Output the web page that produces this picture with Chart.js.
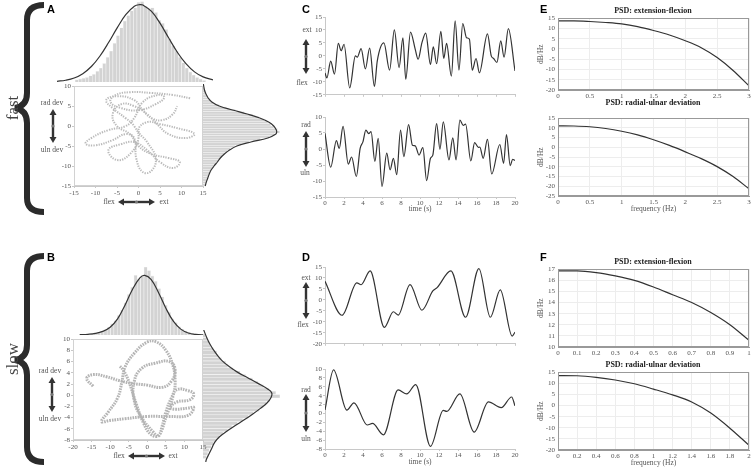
<!DOCTYPE html>
<html>
<head>
<meta charset="utf-8">
<script src="https://cdn.jsdelivr.net/npm/chart.js@4/dist/chart.umd.min.js"></script>
<style>
html, body { margin: 0; padding: 0; background: #fff; }
#fig { position: relative; width: 753px; height: 469px; overflow: hidden; font-family: 'Liberation Serif', 'Times New Roman', serif; color: #555; }
#fig canvas { position: absolute; }
#ann { position: absolute; left: 0; top: 0; z-index: 2; }
.t { position: absolute; font-size: 7.5px; line-height: 8px; white-space: nowrap; transform: translate(-50%, -50%); z-index: 3; }
.ttl { position: absolute; font-size: 8px; line-height: 8px; font-weight: bold; color: #222; white-space: nowrap; transform: translate(-50%, -50%); z-index: 3; }
.lbl { position: absolute; font: bold 11px/11px 'Liberation Sans', Arial, sans-serif; color: #000; z-index: 3; }
.side { position: absolute; font-size: 17px; line-height: 17px; color: #444; white-space: nowrap; transform: translate(-50%, -50%) rotate(-90deg); z-index: 3; }
</style>
</head>
<body>
<div id="fig">
  <svg id="ann" width="753" height="469"></svg>
</div>
<script>
// ---- data ----
// C: fast trial, time series (s, deg)
var cTimeFE = [0,0.2,0.6,1.0,1.4,1.7,2.0,2.6,3.2,3.4,3.8,4.25,4.7,5.2,5.5,6.2,6.8,7.3,7.8,8.2,8.5,9.0,9.5,9.8,10.2,10.6,11.1,11.4,11.75,12.2,12.5,12.8,13.3,13.7,14.1,14.5,14.9,15.2,15.5,15.9,16.25,17.1,17.5,17.75,18.1,18.5,18.85,19.3,20];
var cFlexExt = [-6.6,-8.5,-2,-7,4.8,2,4.5,-12.3,0,-0.5,2.8,-5,3,-11.8,-2,5,-5.5,10,-4.5,7,-9,9.2,2.5,-1.3,5,8.8,-3.3,3.5,-3,9.5,-1,4.8,-7.8,13.5,-5.5,12.5,7,6.5,-5.5,-1,-6.5,8.5,0,-1,-2.5,5.8,-0.5,10.5,-5.8];
var cTimeRU = [0,0.6,1.2,1.5,1.9,2.45,2.8,3.3,3.7,4.0,4.3,4.6,4.85,5.25,5.6,6.0,6.5,6.85,7.2,7.55,7.95,8.3,8.8,9.2,9.5,9.9,10.3,10.7,11.1,11.35,11.75,12.1,12.45,13.05,13.45,13.8,14.2,14.55,14.8,15.35,15.75,16.15,16.3,16.65,17.1,17.55,18.4,18.8,19.1,19.5,19.75,20];
var cRadUln = [4.9,-5.7,2.6,0.2,7.1,-4.7,-2.5,-8.6,0.2,2.3,5.9,4.8,5.4,-3.9,3.3,-11.7,-1.3,-6.5,-2.9,-8,5.9,-2.4,7.6,1.2,1,-1.9,0.4,-9.9,-2.9,-1.9,7.9,-0.1,8.5,-3.4,3.5,-3.4,9,7.4,7.8,-3.7,2,0.5,0.6,-2.9,3,-7.8,1.4,-4.5,4.5,-5.2,-3.2,-3.6];

// D: slow trial
var dTimeFE = [0,1.8,3.35,3.8,4.75,6.25,7.2,7.7,8.95,10.2,11.35,11.8,13.25,14.8,16.2,17.4,18.45,19.7,20];
var dFlexExt = [8.5,-7,7.8,6.9,13.2,-12.5,-5.4,-6.9,7,-4.7,4.1,5.6,13.2,-7.9,14.3,-7.9,4.6,-16.5,-14.7];
var dTimeRU = [0,0.9,2.3,3.05,4.45,5.0,6.15,7.7,8.6,9.55,11.1,12.45,12.8,14.2,15.7,17.2,18.55,19.65,20];
var dRadUln = [0.8,9.8,0.75,2.4,-2.6,-2.25,-4.8,5.3,4.4,6.5,-7.4,0.7,0.45,4.4,-4.2,2.6,1.3,3.7,1.7];

// A / B: wrist trajectories (flex-ext vs rad-uln)
var aPathFE = [12,8,3,-2,-5.5,-6.5,-4,0,4,6,4.5,1,-1,-3,-7,-11,-12.3,-10,-6,-3,-1,-0.5,1,3,4,2,0,2,5,9,13,11,7,4.6,2,-1,-4,-6,-5,-2,0,3,7,9.6,8,5,2,-1,-4,-7,-5,-2,0,-1,-3,-6,-7.5,-5,-1,1,3,5.5,8,9];
var aPathRU = [7,7.8,8.3,8.5,7.7,6,4.5,4,5.5,7.2,7.8,6,2,0,-1,-3,-4.4,-4.8,-3.5,-2,-3,-8.2,-11.5,-11.2,-8,-4,-1,1,0.5,-0.5,-1.9,-3,-2,0.2,3,5,5.5,3,0,-2,-5,-7,-8,-9,-10.5,-9,-6,-4,-4.5,-6,-8.5,-7,-3,0,2,4.5,6.5,7.5,6.5,4,2,1.5,3,5];
var bPathFE = [-14.6,-16.3,-14.5,-11,-7.5,-4,0,4,6.5,7.5,6,2,-1.5,-3.5,-3.5,-1.5,1.5,3,4,5,6.5,8,11,12.5,11.5,8,6.2,7.5,11,12.5,11,6,0,-6,-10,-12.3,-10.5,-8,-6.8,-6,-3.5,0,2.5,5,6.8,7.5,7,5,3,1,-1,-3,-5,-6.5,-7.6];
var bPathRU = [1.6,3,3.7,3.3,2.6,2.1,1.8,1.4,2.5,4.5,6,5.7,4.8,2.5,-1,-4,-6.5,-7.3,-5.5,-3,-0.5,1,0.8,0.2,-0.8,-1.2,-2.2,-2.5,-2.3,-2.2,-3.6,-3.8,-3.8,-4.2,-4.5,-4.7,-3,-0.5,2.5,5,7.5,9.5,9.5,8,5.5,2.5,0,-4,-7.2,-7,-5,-1.5,2.5,4.5,5.3];

// A histograms (relative heights, fitted curve peak = 100)
var aTopBins = [-14.4,-13.6,-12.8,-12.0,-11.2,-10.4,-9.6,-8.8,-8.0,-7.2,-6.4,-5.6,-4.8,-4.0,-3.2,-2.4,-1.6,-0.8,0.0,0.8,1.6,2.4,3.2,4.0,4.8,5.6,6.4,7.2,8.0,8.8,9.6,10.4,11.2,12.0,12.8,13.6,14.4,15.2];
var aTopCounts = [3,4,5,6,8,10,14,18,24,32,40,50,60,70,79,86,92,96,103,104,98,95,96,90,80,76,68,56,47,40,32,25,18,13,9,6,4,2];
var aTopFitX = [-19,-17,-15,-13,-11,-9,-7,-5,-3,-1,0.3,1,3,5,7,9,11,13,15,17.3];
var aTopFitY = [0.9,2.3,5.2,10.8,20,33.6,51,70,87,98,100,99.4,91.2,75.7,56.8,38.5,23.7,13.1,6.6,2.8];
var aRightBins = [-14.7,-14.1,-13.5,-12.9,-12.3,-11.7,-11.1,-10.5,-9.9,-9.3,-8.7,-8.1,-7.5,-6.9,-6.3,-5.7,-5.1,-4.5,-3.9,-3.3,-2.7,-2.1,-1.5,-0.9,-0.3,0.3,0.9,1.5,2.1,2.7,3.3,3.9,4.5,5.1,5.7,6.3,6.9,7.5,8.1,8.7,9.3,9.9];
var aRightCounts = [3,4,5,6,8,9,11,13,15,18,21,23,26,29,33,37,43,52,63,78,90,97,104,101,96,92,88,83,76,68,56,44,32,22,14,10,7,5,4,3,2,1];
var aRightFitY = [10.5,9,8,7,6,5,4,3,2,1,0,-1,-1.5,-2,-3,-4,-5,-6,-7,-8,-9,-10,-11,-12,-13,-14,-15];
var aRightFitX = [0.5,2,4,7,12,22,40,60,77,89,96,99.5,100,99,88,65,46,36,29,23.5,19.5,15,11,8.5,6.5,4.5,3];

// B histograms
var bTopBins = [-14.85,-13.95,-13.05,-12.15,-11.25,-10.35,-9.45,-8.55,-7.65,-6.75,-5.85,-4.95,-4.05,-3.15,-2.25,-1.35,-0.45,0.45,1.35,2.25,3.15,4.05,4.95,5.85,6.75,7.65,8.55,9.45,10.35,11.25,12.15,13.05,13.95];
var bTopCounts = [2,3,4,6,9,13,19,24,33,42,54,68,80,100,94,98,114,108,99,90,78,64,50,38,27,21,14,10,7,5,3,2,1];
var bTopFitX = [-18.2,-16,-14,-12,-10,-8,-6,-4,-2,-0.7,1,3,5,7,9,11,13,15.6];
var bTopFitY = [0.5,1.2,2.6,6,13,27,50,76.4,95.9,100,93.1,71.3,44.8,23.1,9.8,3.4,1.0,0.2];
var bRightBins = [-11.1,-10.5,-9.9,-9.3,-8.7,-8.1,-7.5,-6.9,-6.3,-5.7,-5.1,-4.5,-3.9,-3.3,-2.7,-2.1,-1.5,-0.9,-0.3,0.3,0.9,1.5,2.1,2.7,3.3,3.9,4.5,5.1,5.7,6.3,6.9,7.5,8.1,8.7,9.3,9.9,10.5];
var bRightCounts = [5,7,9,12,15,19,24,29,36,42,50,58,66,73,82,88,92,97,112,106,96,88,80,72,62,54,44,36,33,27,22,20,15,11,9,6,4];
var bRightFitY = [11.5,10,9,8,7,6,5,4,3,2,1,0.3,-0.5,-1.5,-2.5,-3.5,-4.5,-5.5,-6.5,-7.5,-8.5,-9.5,-10.5,-11.5,-12];
var bRightFitX = [1,6,10,15,21,28,38,50,65,80,94,100,99,93,83,72,60,47,35,24,17,13,9,5,4];

// E / F: power spectral density (dB/Hz)
var eFreq = [0,0.25,0.5,0.75,1,1.25,1.5,1.75,2,2.25,2.5,2.75,3];
var eFlexPsd = [13.7,13.7,13.4,12.9,12.2,10.9,9.0,6.8,4.0,0.6,-4.2,-10.5,-18.0];
var eRadPsd = [11.1,11.0,10.6,9.7,8.3,6.4,3.9,1.0,-2.3,-5.8,-9.9,-15.0,-21.3];
var eFlexDrop = [10.3,13.7];
var eRadDrop = [8.3,11.1];
var fFreqFE = [0,0.1,0.2,0.3,0.4,0.5,0.6,0.7,0.8,0.9,1];
var fFlexPsd = [16.85,16.85,16.7,16.4,16.0,15.4,14.7,14.0,13.1,12.0,10.6];
var fFreqRU = [0,0.2,0.4,0.6,0.8,1,1.2,1.4,1.6,1.8,2];
var fRadPsd = [13.5,13.4,12.7,11.5,9.8,7.4,4.8,1.6,-3.4,-10.2,-17.9];
var fFlexDrop = [13.9,16.85];
var fRadDrop = [10.6,13.5];

// ---- setup ----
var serif = "'Liberation Serif', 'Times New Roman', serif";
Chart.defaults.font.family = serif;
Chart.defaults.font.size = 7;
Chart.defaults.color = '#555';

Chart.register({
    id: 'frame',
    defaults: { color: null },
    afterDraw: function(chart, args, opts) {
        if (!opts.color) return;
        var a = chart.chartArea, g = chart.ctx;
        g.save();
        g.strokeStyle = opts.color;
        g.lineWidth = 1;
        g.strokeRect(Math.round(a.left) + 0.5, Math.round(a.top) + 0.5, Math.round(a.width) - 1, Math.round(a.height) - 1);
        g.restore();
    }
});

var fig = document.getElementById('fig');

let pts = (xs, ys) => xs.map((x, i) => ({ x: x, y: ys[i] }));
let fmt = v => String(Math.round(v * 100) / 100);

// area = plot rectangle [x, y, w, h], m = margins [left, top, right, bottom]
function build(area, m, type, datasets, scales, frameColor, indexAxis) {
    var l = m[0], t = m[1], r = m[2], b = m[3];
    var w = l + area[2] + r, h = t + area[3] + b;
    var c = document.createElement('canvas');
    c.width = w; c.height = h;
    c.style.left = (area[0] - l) + 'px';
    c.style.top = (area[1] - t) + 'px';
    c.style.width = w + 'px';
    c.style.height = h + 'px';
    fig.appendChild(c);
    var pad = { top: t, right: r, left: 0, bottom: 0 };
    if (scales.x.display === false) pad.bottom = b; else scales.x.afterFit = s => { s.height = b; };
    if (scales.y.display === false) pad.left = l; else scales.y.afterFit = s => { s.width = l; };
    return new Chart(c, {
        type: type,
        data: { datasets: datasets },
        options: {
            responsive: false,
            animation: false,
            indexAxis: indexAxis || 'x',
            layout: { padding: pad },
            scales: scales,
            plugins: { legend: { display: false }, tooltip: { enabled: false }, frame: { color: frameColor || null } }
        }
    });
}

function axis(min, max, step, opts) {
    opts = opts || {};
    return {
        type: 'linear', min: min, max: max, offset: false,
        ticks: { stepSize: step, display: opts.labels !== false, padding: opts.pad == null ? 1 : opts.pad, autoSkip: false, maxRotation: 0, color: '#555', font: { size: 7 }, callback: fmt },
        grid: opts.grid
            ? { drawOnChartArea: true, color: '#ededed', tickLength: 0 }
            : { drawOnChartArea: false, color: '#c8c8c8', tickLength: 2 },
        border: { color: opts.grid ? '#999' : '#c8c8c8' },
        title: opts.title ? { display: true, text: opts.title, padding: 0, color: '#555', font: { size: 7.5 } } : { display: false }
    };
}
function hidden(min, max) {
    return { type: 'linear', display: false, min: min, max: max, offset: false };
}

var lineStyle = { borderColor: '#333', borderWidth: 1.2, pointRadius: 0, fill: false };
function curve(data, extra) { return Object.assign({ type: 'line', data: data, order: 0, tension: 0.4 }, lineStyle, extra || {}); }
function bars(data) {
    return { type: 'bar', data: data, order: 1, backgroundColor: '#d3d3d3', borderColor: '#f4f4f4', borderWidth: 0.6,
             barPercentage: 1, categoryPercentage: 1 };
}

// ---- A ----
build([57, 0, 156, 82], [0, 0, 0, 0], 'bar',
    [curve(pts(aTopFitX, aTopFitY)), bars(pts(aTopBins, aTopCounts))],
    { x: hidden(-19, 17.3), y: hidden(0, 106) });
build([203, 82, 77, 108], [0, 0, 0, 0], 'bar',
    [curve(aRightFitY.map((y, i) => ({ x: aRightFitX[i], y: y }))), bars(aRightBins.map((y, i) => ({ x: aRightCounts[i], y: y })))],
    { x: hidden(0, 104.5), y: hidden(-16, 11) }, null, 'y');
build([74, 86, 129, 100], [20, 5, 5, 12], 'scatter',
    [{ data: pts(aPathFE, aPathRU), showLine: true, tension: 0.45, pointRadius: 0, borderColor: 'rgba(140,140,140,0.6)', borderWidth: 2, borderDash: [1.3, 1.2] }],
    { x: axis(-15, 15, 5), y: axis(-15, 10, 5) }, '#d2d2d2');

// ---- B ----
build([73, 264, 133, 71], [0, 0, 0, 0], 'bar',
    [curve(pts(bTopFitX, bTopFitY)), bars(pts(bTopBins, bTopCounts))],
    { x: hidden(-20, 15.8), y: hidden(0, 119) });
build([203, 330, 77, 132], [0, 0, 0, 0], 'bar',
    [curve(bRightFitY.map((y, i) => ({ x: bRightFitX[i], y: y }))), bars(bRightBins.map((y, i) => ({ x: bRightCounts[i], y: y })))],
    { x: hidden(0, 112), y: hidden(-12, 11.5) }, null, 'y');
build([73, 339, 130, 101], [20, 5, 5, 12], 'scatter',
    [{ data: pts(bPathFE, bPathRU), showLine: true, tension: 0.45, pointRadius: 0, borderColor: 'rgba(130,130,130,0.6)', borderWidth: 3, borderDash: [1.6, 1] }],
    { x: axis(-20, 15, 5), y: axis(-8, 10, 2) }, '#d2d2d2');

// ---- C / D time series ----
function series(xs, ys) {
    return Object.assign({ data: pts(xs, ys), cubicInterpolationMode: 'monotone' }, lineStyle, { borderWidth: 1.2 });
}
build([325, 17, 190, 80], [20, 6, 6, 3], 'line', [series(cTimeFE, cFlexExt)],
    { x: axis(0, 20, 2, { labels: false }), y: axis(-15, 15, 5) });
build([325, 117, 190, 80], [20, 6, 6, 17], 'line', [series(cTimeRU, cRadUln)],
    { x: axis(0, 20, 2, { title: 'time (s)', pad: 0 }), y: axis(-15, 10, 5) });
build([325, 267, 190, 79], [20, 6, 6, 3], 'line', [series(dTimeFE, dFlexExt)],
    { x: axis(0, 20, 2, { labels: false }), y: axis(-20, 15, 5) });
build([325, 369, 190, 80], [20, 6, 6, 18], 'line', [series(dTimeRU, dRadUln)],
    { x: axis(0, 20, 2, { title: 'time (s)', pad: 0 }), y: axis(-8, 10, 2) });

// ---- E / F spectra ----
function psd(area, m, fx, fy, drop, xmax, xstep, ymin, ymax, ystep, xtitle) {
    return build(area, m, 'line', [
        Object.assign({ data: pts(fx, fy), cubicInterpolationMode: 'monotone' }, lineStyle),
        Object.assign({ data: pts([0, 0], drop), tension: 0 }, lineStyle)
    ], {
        x: axis(0, xmax, xstep, { grid: true, pad: 2, title: xtitle }),
        y: axis(ymin, ymax, ystep, { grid: true, pad: 3, title: 'dB/Hz' })
    }, '#999');
}
psd([558, 17, 191, 73], [21, 6, 4, 10], eFreq, eFlexPsd, eFlexDrop, 3, 0.5, -20, 15, 5);
psd([558, 117, 191, 79], [21, 6, 4, 18], eFreq, eRadPsd, eRadDrop, 3, 0.5, -25, 15, 5, 'frequency (Hz)');
psd([558, 268, 191, 79], [21, 6, 4, 10], fFreqFE, fFlexPsd, fFlexDrop, 1, 0.1, 10, 17, 1);
psd([558, 371, 191, 79], [21, 6, 4, 18], fFreqRU, fRadPsd, fRadDrop, 2, 0.2, -20, 15, 5, 'frequency (Hz)');

// ---- annotations ----
var svg = document.getElementById('ann');
function el(tag, attrs) {
    var e = document.createElementNS('http://www.w3.org/2000/svg', tag);
    for (var k in attrs) e.setAttribute(k, attrs[k]);
    svg.appendChild(e);
}
function vArrow(x, y1, y2) {
    el('line', { x1: x, y1: y1 + 5, x2: x, y2: y2 - 5, stroke: '#333', 'stroke-width': 2.4 });
    el('polygon', { points: (x - 3.5) + ',' + (y1 + 6) + ' ' + (x + 3.5) + ',' + (y1 + 6) + ' ' + x + ',' + y1, fill: '#333' });
    el('polygon', { points: (x - 3.5) + ',' + (y2 - 6) + ' ' + (x + 3.5) + ',' + (y2 - 6) + ' ' + x + ',' + y2, fill: '#333' });
    el('circle', { cx: x, cy: (y1 + y2) / 2, r: 1.6, fill: '#777' });
}
function hArrow(y, x1, x2) {
    el('line', { x1: x1 + 5, y1: y, x2: x2 - 5, y2: y, stroke: '#333', 'stroke-width': 2.4 });
    el('polygon', { points: (x1 + 6) + ',' + (y - 3.5) + ' ' + (x1 + 6) + ',' + (y + 3.5) + ' ' + x1 + ',' + y, fill: '#333' });
    el('polygon', { points: (x2 - 6) + ',' + (y - 3.5) + ' ' + (x2 - 6) + ',' + (y + 3.5) + ' ' + x2 + ',' + y, fill: '#333' });
    el('circle', { cx: (x1 + x2) / 2, cy: y, r: 1.6, fill: '#777' });
}
// braces
el('path', { d: 'M44 5 Q27 5 27 20 L27 93 Q27 106 15 108 Q27 110 27 123 L27 198 Q27 212 44 212', fill: 'none', stroke: '#2b2b2b', 'stroke-width': 6 });
el('path', { d: 'M44 256 Q27 256 27 271 L27 345 Q27 358 15 360 Q27 362 27 375 L27 447 Q27 462 44 462', fill: 'none', stroke: '#2b2b2b', 'stroke-width': 6 });

vArrow(53, 109, 143); hArrow(202, 118, 155);
vArrow(52, 377, 412); hArrow(456, 128, 165);
vArrow(306, 39, 74); vArrow(306, 131, 167);
vArrow(306, 282, 319); vArrow(306, 394, 432);

function note(cls, x, y, s) {
    var d = document.createElement('div');
    d.className = cls;
    d.style.left = x + 'px';
    d.style.top = y + 'px';
    d.textContent = s;
    fig.appendChild(d);
}
note('side', 12, 108, 'fast');
note('side', 12, 359, 'slow');
note('lbl', 47, 4, 'A');
note('lbl', 47, 252, 'B');
note('lbl', 302, 4, 'C');
note('lbl', 302, 252, 'D');
note('lbl', 540, 4, 'E');
note('lbl', 540, 252, 'F');
note('t', 52, 103, 'rad dev'); note('t', 52, 150, 'uln dev');
note('t', 109, 202, 'flex'); note('t', 164, 202, 'ext');
note('t', 50, 371, 'rad dev'); note('t', 50, 419, 'uln dev');
note('t', 119, 456, 'flex'); note('t', 173, 456, 'ext');
note('t', 307, 30, 'ext'); note('t', 302, 83, 'flex');
note('t', 306, 125, 'rad'); note('t', 305, 173, 'uln');
note('t', 306, 278, 'ext'); note('t', 303, 325, 'flex');
note('t', 306, 390, 'rad'); note('t', 306, 439, 'uln');
note('ttl', 653, 11, 'PSD: extension-flexion');
note('ttl', 653, 103, 'PSD: radial-ulnar deviation');
note('ttl', 653, 262, 'PSD: extension-flexion');
note('ttl', 653, 365, 'PSD: radial-ulnar deviation');
</script>
</body>
</html>
